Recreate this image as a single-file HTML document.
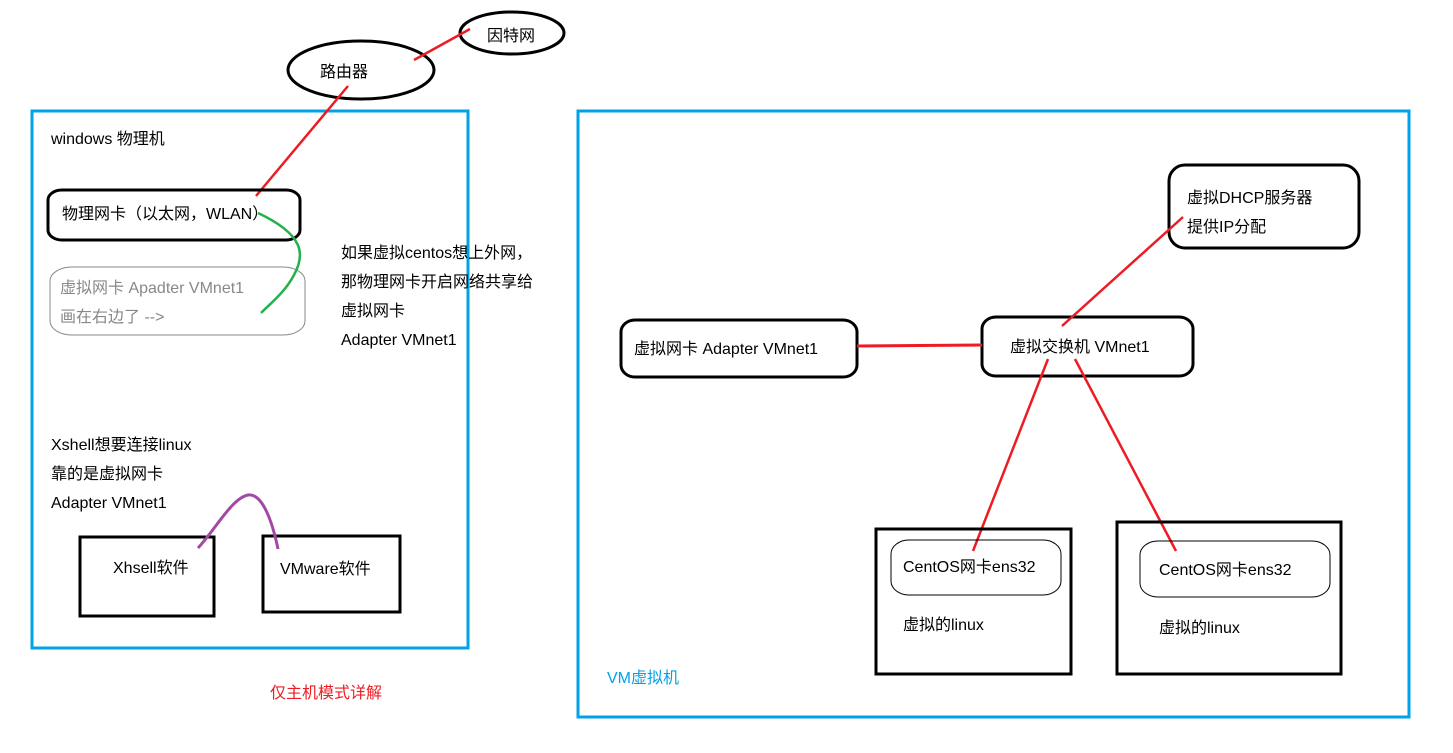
<!DOCTYPE html>
<html><head><meta charset="utf-8"><style>
html,body{margin:0;padding:0;background:#fff;}
svg{display:block;}
text{font-family:"Liberation Sans","Noto Sans CJK SC",sans-serif;font-size:16px;fill:#000;}
</style></head><body>
<svg width="1453" height="753" viewBox="0 0 1453 753" xmlns="http://www.w3.org/2000/svg">
<rect x="0" y="0" width="1453" height="753" fill="#fff"/>
<!-- blue frames -->
<rect x="32" y="111" width="436" height="537" fill="none" stroke="#00a2e8" stroke-width="3"/>
<rect x="578" y="111" width="831" height="606" fill="none" stroke="#00a2e8" stroke-width="3"/>

<!-- ellipses -->
<ellipse cx="361" cy="70" rx="73" ry="29" fill="none" stroke="#000" stroke-width="3"/>
<text x="320" y="77">路由器</text>
<ellipse cx="512" cy="33" rx="52" ry="21" fill="none" stroke="#000" stroke-width="3"/>
<text x="487" y="41">因特网</text>
<line x1="414" y1="60" x2="470" y2="29" stroke="#ed1c24" stroke-width="2.5"/>
<line x1="348" y1="86" x2="256" y2="196" stroke="#ed1c24" stroke-width="2.5"/>

<text x="51" y="144">windows 物理机</text>
<rect x="48" y="190" width="252" height="50" rx="14" ry="10" fill="none" stroke="#000" stroke-width="3"/>
<text x="62" y="219">物理网卡（以太网，WLAN）</text>
<rect x="50" y="267" width="255" height="68" rx="22" ry="14" fill="none" stroke="#888" stroke-width="1"/>
<text x="60" y="293" style="fill:#888">虚拟网卡 Apadter VMnet1</text>
<text x="60" y="322" style="fill:#888">画在右边了 --&gt;</text>
<path d="M258 213 C 305 235, 305 255, 294 275 C 285 292, 272 302, 261 313" fill="none" stroke="#22b14c" stroke-width="2.5"/>
<text x="341" y="258">如果虚拟centos想上外网，</text>
<text x="341" y="287">那物理网卡开启网络共享给</text>
<text x="341" y="316">虚拟网卡</text>
<text x="341" y="345">Adapter VMnet1</text>

<text x="51" y="450">Xshell想要连接linux</text>
<text x="51" y="479">靠的是虚拟网卡</text>
<text x="51" y="508">Adapter VMnet1</text>
<rect x="80" y="537" width="134" height="79" fill="none" stroke="#000" stroke-width="3"/>
<text x="113" y="573">Xhsell软件</text>
<rect x="263" y="536" width="137" height="76" fill="none" stroke="#000" stroke-width="3"/>
<text x="280" y="574">VMware软件</text>
<path d="M198 548 C 215 530, 232 498, 248 495 C 262 493, 272 520, 278 549" fill="none" stroke="#a349a4" stroke-width="3"/>

<text x="270" y="698" style="fill:#ed1c24">仅主机模式详解</text>
<text x="607" y="683" style="fill:#00a2e8">VM虚拟机</text>

<!-- right side -->
<rect x="1169" y="165" width="190" height="83" rx="16" ry="16" fill="none" stroke="#000" stroke-width="3"/>
<text x="1187" y="203">虚拟DHCP服务器</text>
<text x="1187" y="232">提供IP分配</text>
<rect x="621" y="320" width="236" height="57" rx="14" ry="12" fill="none" stroke="#000" stroke-width="3"/>
<text x="634" y="354">虚拟网卡 Adapter VMnet1</text>
<rect x="982" y="317" width="211" height="59" rx="14" ry="12" fill="none" stroke="#000" stroke-width="3"/>
<text x="1010" y="352">虚拟交换机 VMnet1</text>
<line x1="857" y1="346" x2="982" y2="345" stroke="#ed1c24" stroke-width="3"/>
<line x1="1062" y1="326" x2="1183" y2="217" stroke="#ed1c24" stroke-width="2.5"/>
<line x1="1048" y1="359" x2="973" y2="551" stroke="#ed1c24" stroke-width="2.5"/>
<line x1="1075" y1="359" x2="1176" y2="551" stroke="#ed1c24" stroke-width="2.5"/>

<rect x="876" y="529" width="195" height="145" fill="none" stroke="#000" stroke-width="3"/>
<rect x="891" y="540" width="170" height="55" rx="18" ry="14" fill="none" stroke="#000" stroke-width="1"/>
<text x="903" y="572">CentOS网卡ens32</text>
<text x="903" y="630">虚拟的linux</text>
<rect x="1117" y="522" width="224" height="152" fill="none" stroke="#000" stroke-width="3"/>
<rect x="1140" y="541" width="190" height="56" rx="18" ry="14" fill="none" stroke="#000" stroke-width="1"/>
<text x="1159" y="575">CentOS网卡ens32</text>
<text x="1159" y="633">虚拟的linux</text>
</svg>
</body></html>
